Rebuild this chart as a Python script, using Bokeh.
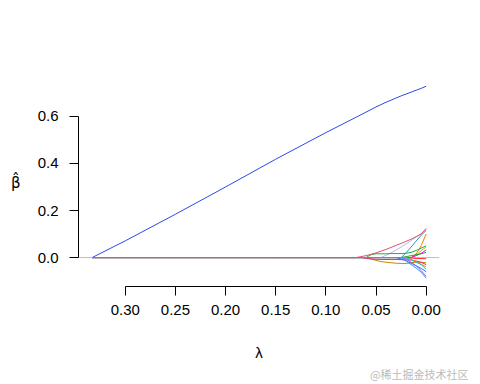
from bokeh.plotting import figure
from bokeh.models import Range1d, FixedTicker, NumeralTickFormatter, Span, Title
from bokeh.embed import file_html
from bokeh.resources import INLINE

# lambda grid (x), shared by every coefficient path
lam = [0.333, 0.30, 0.25, 0.20, 0.15, 0.10, 0.07, 0.065, 0.06, 0.055, 0.05,
       0.045, 0.04, 0.035, 0.03, 0.025, 0.02, 0.015, 0.01, 0.005, 0.0]

# coefficient paths (beta-hat)
b_main     = [0.0, 0.071, 0.184, 0.300, 0.418, 0.531, 0.596, 0.607, 0.618, 0.629, 0.640,
              0.650, 0.660, 0.669, 0.678, 0.687, 0.695, 0.703, 0.711, 0.719, 0.728]
b_lavender = [0, 0, 0, 0, 0, 0, 0, 0, 0, 0, 0,
              0.0, 0.010, 0.020, 0.032, 0.045, 0.058, 0.072, 0.087, 0.102, 0.118]
b_teal     = [0, 0, 0, 0, 0, 0, 0, 0, 0, 0, 0,
              0, 0, 0, 0, 0.0, 0.020, 0.045, 0.070, 0.095, 0.115]
b_orange   = [0, 0, 0, 0, 0, 0, 0, 0, 0, 0, 0,
              0, 0, 0, 0, 0, 0, 0.0, 0.015, 0.050, 0.100]
b_green    = [0, 0, 0, 0, 0, 0, 0, 0, 0.0, 0.012, 0.016,
              0.016, 0.016, 0.017, 0.017, 0.017, 0.018, 0.022, 0.030, 0.040, 0.050]
b_lime     = [0, 0, 0, 0, 0, 0, 0, 0, 0, 0, 0,
              0, 0, 0, 0, 0, 0, 0.0, 0.010, 0.030, 0.045]
b_magenta  = [0, 0, 0, 0, 0, 0, 0, 0, 0, 0, 0,
              0, 0, 0, 0, 0, 0, 0.0, 0.008, 0.018, 0.032]
b_dkgreen  = [0, 0, 0, 0, 0, 0, 0, 0, 0, 0, 0,
              0, 0, 0, 0, 0.0, 0.004, 0.008, 0.012, 0.016, 0.022]
b_red      = [0, 0, 0, 0, 0, 0, 0, 0, 0, 0, 0,
              0, 0, 0, 0, 0, 0.0, -0.002, -0.004, -0.004, -0.005]
b_gold     = [0, 0, 0, 0, 0, 0, 0, 0, 0.0, -0.006, -0.012,
              -0.017, -0.020, -0.022, -0.024, -0.025, -0.025, -0.022, -0.020, -0.020, -0.022]
b_hotpink  = [0, 0, 0, 0, 0, 0, 0, 0, -0.003, -0.006, -0.007,
              -0.008, -0.008, -0.008, -0.008, -0.009, -0.010, -0.010, -0.015, -0.020, -0.030]
b_orange2  = [0, 0, 0, 0, 0, 0, 0, 0, 0, 0, 0,
              0, 0, 0, 0, 0, 0.0, -0.008, -0.018, -0.028, -0.040]
b_cyan     = [0, 0, 0, 0, 0, 0, 0, 0, 0, 0, 0,
              0, 0, 0, 0, 0, 0.0, -0.010, -0.020, -0.030, -0.050]
b_ltblue   = [0, 0, 0, 0, 0, 0, 0, 0, 0, 0, 0,
              0, 0, 0, 0.0, -0.006, -0.014, -0.024, -0.035, -0.046, -0.060]
b_violet   = [0, 0, 0, 0, 0, 0, 0, 0, 0, 0, 0,
              0, 0, 0, 0, 0, -0.005, -0.020, -0.035, -0.055, -0.080]
b_skyblue  = [0, 0, 0, 0, 0, 0, 0, 0, 0, 0, 0,
              0, 0, 0, 0, 0.0, -0.015, -0.030, -0.045, -0.062, -0.088]
b_pinkred  = [0, 0, 0, 0, 0, 0, 0, 0.004, 0.008, 0.014, 0.020,
              0.027, 0.035, 0.043, 0.052, 0.060, 0.069, 0.078, 0.089, 0.100, 0.124]

paths = [
    (b_main, "#2B4BE6"),
    (b_lavender, "#B4B9F2"),
    (b_teal, "#2E9AA8"),
    (b_orange, "#F07F00"),
    (b_green, "#1DB33A"),
    (b_lime, "#8CD21E"),
    (b_magenta, "#FF00FF"),
    (b_dkgreen, "#2CA02C"),
    (b_red, "#FF3030"),
    (b_gold, "#C38B00"),
    (b_hotpink, "#FF1A75"),
    (b_orange2, "#E69500"),
    (b_cyan, "#00CED1"),
    (b_ltblue, "#3070F0"),
    (b_violet, "#9B59F5"),
    (b_skyblue, "#20A8F0"),
    (b_pinkred, "#DF536B"),
]

x_ticks = [0.30, 0.25, 0.20, 0.15, 0.10, 0.05, 0.0]
y_ticks = [0.0, 0.2, 0.4, 0.6]

X0, X1 = 0.3466, -0.0133
Y0, Y1 = -0.123, 0.761
W, H = 480, 384
L, R, T, B = 78, 41, 78, 98

p = figure(width=W, height=H, output_backend="svg", toolbar_location=None,
           x_range=Range1d(X0, X1), y_range=Range1d(Y0, Y1),
           min_border_left=L, min_border_right=R, min_border_top=T, min_border_bottom=B)
p.outline_line_color = None
p.grid.visible = False
p.background_fill_color = "white"
p.border_fill_color = "white"

p.add_layout(Span(location=0, dimension="width", line_color="#BEBEBE",
                  line_width=1, level="underlay"))

for vals, col in paths:
    p.line(lam, vals, line_color=col, line_width=1)

FONT = "Liberation Sans"
for ax, ticks, fmt in ((p.xaxis[0], x_ticks, "0.00"), (p.yaxis[0], y_ticks, "0.0")):
    ax.ticker = FixedTicker(ticks=ticks)
    ax.formatter = NumeralTickFormatter(format=fmt)
    ax.bounds = (min(ticks), max(ticks))
    ax.minor_tick_line_color = None
    ax.major_tick_in = 0
    ax.major_tick_out = 9
    ax.major_tick_line_color = "black"
    ax.axis_line_color = "black"
    ax.major_label_text_font = FONT
    ax.major_label_text_font_size = "15px"
    ax.major_label_text_color = "black"
    ax.axis_label_text_font = FONT
    ax.axis_label_text_font_style = "normal"
    ax.axis_label_text_font_size = "15px"
    ax.axis_label_text_color = "black"
p.xaxis[0].major_label_standoff = 9
p.yaxis[0].major_label_standoff = 11

p.xaxis[0].axis_label = "λ"
p.xaxis[0].axis_label_standoff = 26

p.yaxis[0].axis_label = "β\u0302"
p.yaxis[0].axis_label_text_font = "DejaVu Sans"
p.yaxis[0].axis_label_standoff = 14
try:
    p.yaxis[0].axis_label_orientation = "horizontal"
except Exception:
    pass

p.add_layout(Title(text="@稀土掘金技术社区", align="right", offset=-29,
                   text_font="Noto Sans CJK SC", text_font_size="11px",
                   text_font_style="normal", text_color="#BBBBBB",
                   standoff=0), "below")

open("out.html", "w").write(file_html(p, INLINE))
